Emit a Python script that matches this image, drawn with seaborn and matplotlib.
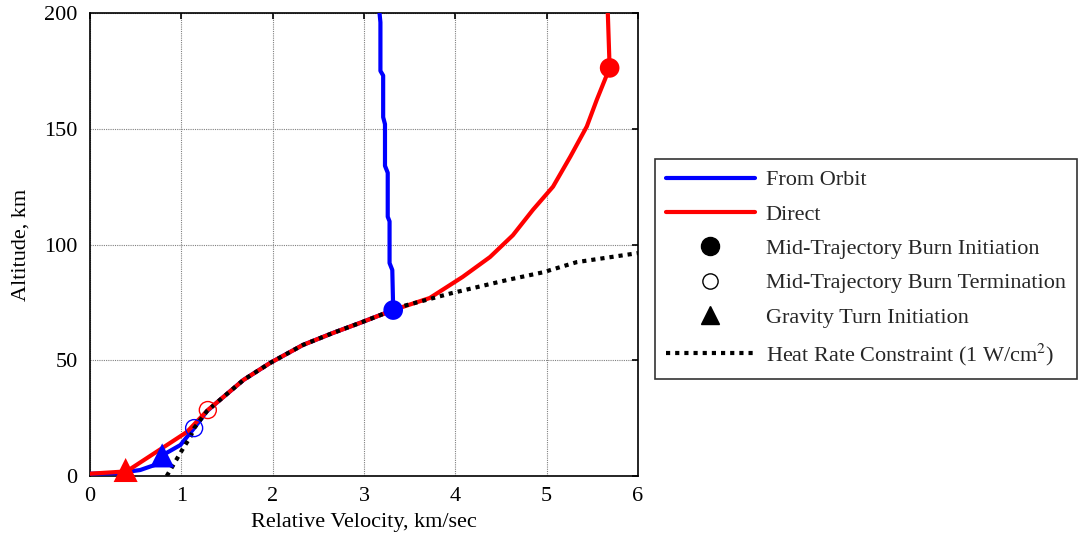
import numpy as np
import pandas as pd
import matplotlib
matplotlib.use("Agg")
import matplotlib.pyplot as plt
import seaborn as sns
from matplotlib.lines import Line2D

# ---- data ----
orbit_v = [0.0, 0.3, 0.55, 0.71, 0.79, 0.99, 1.14, 1.28, 1.42, 1.68, 1.97, 2.33, 2.66, 2.98, 3.32,
           3.31, 3.28, 3.28, 3.26, 3.26, 3.23, 3.23, 3.21, 3.21, 3.18, 3.18, 3.17]
orbit_alt = [1.0, 1.2, 2.6, 4.8, 8.9, 13.4, 20.7, 28.0, 32.8, 41.5, 48.8, 56.6, 61.8, 66.5, 71.7,
             89.0, 92.0, 110.0, 112.0, 131.0, 134.0, 152.0, 155.0, 173.0, 175.0, 196.0, 200.0]

direct_v = [0.0, 0.4, 1.06, 1.29, 1.42, 1.68, 1.97, 2.33, 2.66, 2.98, 3.32,
            3.72, 4.08, 4.38, 4.63, 4.85, 5.07, 5.26, 5.44, 5.55, 5.69, 5.67]
direct_alt = [1.0, 2.0, 19.0, 28.5, 32.8, 41.5, 48.8, 56.6, 61.8, 66.5, 71.7,
              76.9, 86.0, 94.6, 104.0, 115.0, 125.0, 138.0, 151.0, 162.6, 176.3, 200.0]

heat_v = [0.84, 0.93, 1.02, 1.10, 1.14, 1.28, 1.42, 1.68, 1.97, 2.33, 2.66, 2.98, 3.32,
          3.39, 3.96, 4.57, 4.96, 5.33, 6.0]
heat_alt = [0.0, 6.0, 12.0, 17.0, 20.7, 28.0, 32.8, 41.5, 48.8, 56.6, 61.8, 66.5, 71.7,
            73.0, 79.0, 84.7, 88.0, 92.4, 96.3]

# event markers: [from orbit, direct]
burn_init_v = [3.32, 5.69]
burn_init_alt = [71.7, 176.3]
burn_term_v = [1.14, 1.29]
burn_term_alt = [20.7, 28.5]
gturn_v = [0.79, 0.39]
gturn_alt = [8.9, 2.6]
event_case = ["From Orbit", "Direct"]

x_ticks = [0, 1, 2, 3, 4, 5, 6]
y_ticks = [0, 50, 100, 150, 200]

# ---- style ----
sns.set_theme(style="white")
plt.rcParams["font.family"] = ["Liberation Serif", "DejaVu Serif"]
plt.rcParams["mathtext.fontset"] = "stix"

FS = 16
fig = plt.figure(figsize=(10.82, 5.41), dpi=100)
ax = fig.add_axes([0.0832, 0.1201, 0.5064, 0.8558])

colors = {"From Orbit": "#0000ff", "Direct": "#ff0000"}

df_orbit = pd.DataFrame({"v": orbit_v, "alt": orbit_alt})
df_direct = pd.DataFrame({"v": direct_v, "alt": direct_alt})
df_heat = pd.DataFrame({"v": heat_v, "alt": heat_alt})

sns.lineplot(data=df_orbit, x="v", y="alt", sort=False, estimator=None,
             color=colors["From Orbit"], lw=3, ax=ax, zorder=3)
sns.lineplot(data=df_direct, x="v", y="alt", sort=False, estimator=None,
             color=colors["Direct"], lw=3, ax=ax, zorder=4)
sns.lineplot(data=df_heat, x="v", y="alt", sort=False, estimator=None,
             color="black", lw=3, ax=ax, zorder=5)
ax.lines[-1].set_linestyle((0, (1, 1.2)))

df_bi = pd.DataFrame({"v": burn_init_v, "alt": burn_init_alt, "case": event_case})
df_bt = pd.DataFrame({"v": burn_term_v, "alt": burn_term_alt, "case": event_case})
df_gt = pd.DataFrame({"v": gturn_v, "alt": gturn_alt, "case": event_case})

sns.scatterplot(data=df_bi, x="v", y="alt", hue="case", palette=colors, marker="o",
                s=200, edgecolor="none", legend=False, ax=ax, zorder=6)
for _, r in df_bt.iterrows():
    ax.scatter([r["v"]], [r["alt"]], s=150, facecolors="none",
               edgecolors=colors[r["case"]], linewidths=1.0, zorder=6)
sns.scatterplot(data=df_gt, x="v", y="alt", hue="case", palette=colors, marker="^",
                s=300, edgecolor="none", legend=False, ax=ax, zorder=6, clip_on=False)

ax.set_xlim(0, 6)
ax.set_ylim(0, 200)
ax.set_xticks(x_ticks)
ax.set_yticks(y_ticks)
ax.grid(True, color="#808080", linestyle=(0, (1, 1)), linewidth=0.8)
for s in ax.spines.values():
    s.set_color("black")
    s.set_linewidth(1.2)
ax.tick_params(direction="in", top=True, right=True, length=4, width=1.2,
               colors="black", labelsize=FS)
ax.tick_params(axis="x", pad=8)
ax.tick_params(axis="y", pad=9)
ax.set_xlabel("Relative Velocity, km/sec", fontsize=FS, color="black", labelpad=5)
ax.set_ylabel("Altitude, km", fontsize=FS, color="black", labelpad=10)

handles = [
    Line2D([], [], color="#0000ff", lw=3),
    Line2D([], [], color="#ff0000", lw=3),
    Line2D([], [], color="black", marker="o", ls="none", markersize=13),
    Line2D([], [], color="black", marker="o", ls="none", markersize=11,
           markerfacecolor="none", markeredgewidth=1),
    Line2D([], [], color="black", marker="^", ls="none", markersize=13),
    Line2D([], [], color="black", lw=3, ls=(0, (1, 1.2))),
]
labels = ["From Orbit", "Direct", "Mid-Trajectory Burn Initiation",
          "Mid-Trajectory Burn Termination", "Gravity Turn Initiation",
          "Heat Rate Constraint (1 W/cm$^2$)"]
leg = fig.legend(handles, labels, loc="center left", bbox_to_anchor=(0.605, 0.503),
                 fontsize=FS, frameon=True, fancybox=False, edgecolor="black",
                 handlelength=4.0, labelspacing=0.62, borderpad=0.5, handletextpad=0.5,
                 borderaxespad=0)
leg.get_frame().set_linewidth(1.2)

fig.savefig("out.png", dpi=100)
